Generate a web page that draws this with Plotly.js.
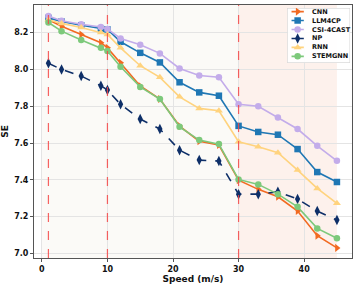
<!DOCTYPE html>
<html>
<head>
<meta charset="utf-8">
<script src="https://cdn.plot.ly/plotly-3.0.1.min.js"></script>
<style>html,body{margin:0;padding:0;background:#fff;}#chart{width:357px;height:286px;}</style>
</head>
<body>
<div id="chart"></div>
<script>
const speeds = [1,3,6,9,10,12,15,18,21,24,27,30,33,36,39,42,45];
const cnn     = [8.270,8.235,8.190,8.145,8.117,8.036,7.910,7.839,7.692,7.610,7.589,7.398,7.348,7.308,7.230,7.096,7.030];
const llm4cp  = [8.280,8.260,8.240,8.220,8.217,8.150,8.090,8.038,7.930,7.875,7.857,7.693,7.660,7.645,7.567,7.442,7.388];
const csi4cast= [8.290,8.264,8.245,8.230,8.220,8.168,8.134,8.087,8.005,7.967,7.957,7.811,7.800,7.739,7.676,7.585,7.503];
const np_     = [8.033,8.000,7.964,7.911,7.888,7.810,7.730,7.676,7.561,7.507,7.502,7.322,7.322,7.335,7.295,7.230,7.181];
const rnn     = [8.270,8.250,8.228,8.200,8.190,8.117,8.020,7.957,7.851,7.788,7.775,7.607,7.580,7.547,7.453,7.353,7.272];
const stemgnn = [8.255,8.208,8.160,8.117,8.100,8.014,7.905,7.839,7.688,7.616,7.594,7.402,7.375,7.322,7.253,7.136,7.082];
const seriesNames = ['CNN','LLM4CP','CSI-4CAST','NP','RNN','STEMGNN'];
const xTicks = [0,10,20,30,40];
const yTicks = [7.0,7.2,7.4,7.6,7.8,8.0,8.2];
const markLines = [1,10,30];

const F = 'DejaVu Sans, sans-serif';
const styles = [
  {color:'#f26a21', symbol:'triangle-right', size:7, dash:'solid'},
  {color:'#1f77b4', symbol:'square', size:6.5, dash:'solid'},
  {color:'#c3acea', symbol:'circle', size:6.5, dash:'solid'},
  {color:'#0e2f68', symbol:'diamond-tall', size:7.5, dash:'dash'},
  {color:'#ffd37e', symbol:'triangle-up', size:7, dash:'solid'},
  {color:'#7dc97b', symbol:'circle', size:6.5, dash:'solid'}
];
const values = [cnn, llm4cp, csi4cast, np_, rnn, stemgnn];

const data = values.map((y, i) => ({
  x: speeds, y: y, name: seriesNames[i], type: 'scatter', mode: 'lines+markers',
  line: {color: styles[i].color, width: 1.6, dash: styles[i].dash},
  marker: {color: styles[i].color, symbol: styles[i].symbol, size: styles[i].size},
  showlegend: false
}));

// custom compact legend on an overlay axis (layout positions only)
data.push({x:[0,1,1,0,0], y:[0,0,1,1,0], xaxis:'x2', yaxis:'y2', type:'scatter', mode:'lines',
  fill:'toself', fillcolor:'rgba(255,255,255,0.92)', line:{color:'#cfcfcf', width:1}, showlegend:false, hoverinfo:'skip'});
const annotations = [];
seriesNames.forEach((name, i) => {
  const ly = 0.935 - i * 0.163;
  data.push({x:[0.07,0.265], y:[ly,ly], xaxis:'x2', yaxis:'y2', type:'scatter', mode:'lines',
    line:{color:styles[i].color, width:1.6}, showlegend:false, hoverinfo:'skip'});
  data.push({x:[0.167], y:[ly], xaxis:'x2', yaxis:'y2', type:'scatter', mode:'markers',
    marker:{color:styles[i].color, symbol:styles[i].symbol, size:styles[i].size}, showlegend:false, hoverinfo:'skip'});
  annotations.push({xref:'x2', yref:'y2', x:0.36, y:ly, text:name, showarrow:false,
    xanchor:'left', yanchor:'middle', font:{family:F, size:6.5, weight:'bold', color:'#111'}});
});

const shapes = [
  {type:'rect', xref:'x', yref:'paper', x0:0, x1:30, y0:0, y1:1, fillcolor:'#fbfaf7', line:{width:0}, layer:'below'},
  {type:'rect', xref:'x', yref:'paper', x0:30, x1:45, y0:0, y1:1, fillcolor:'#fdf1ec', line:{width:0}, layer:'below'}
];
markLines.forEach(v => shapes.push({type:'line', xref:'x', yref:'paper', x0:v, x1:v, y0:0, y1:1,
  line:{color:'rgba(245,70,70,0.85)', width:1.2, dash:'dash'}}));

const layout = {
  width: 357, height: 286,
  margin: {l: 34, r: 5, t: 5, b: 28},
  paper_bgcolor: '#ffffff', plot_bgcolor: 'rgba(0,0,0,0)',
  font: {family: F, size: 8, color: '#111'},
  showlegend: false,
  xaxis: {range: [-1.2, 47.3], tickvals: xTicks, ticktext: xTicks.map(String),
    showgrid: true, gridcolor: '#e4e4e4', gridwidth: 1, zeroline: false,
    showline: true, linecolor: '#555', linewidth: 1, mirror: true,
    ticks: 'outside', ticklen: 3, tickcolor: '#555',
    tickfont: {family: F, size: 8, weight: 'bold', color: '#111'},
    title: {text: 'Speed (m/s)', font: {family: F, size: 9, weight: 'bold', color: '#111'}, standoff: 2}},
  yaxis: {range: [6.975, 8.35], tickvals: yTicks, ticktext: yTicks.map(v => v.toFixed(1)),
    showgrid: true, gridcolor: '#e4e4e4', gridwidth: 1, zeroline: false,
    showline: true, linecolor: '#555', linewidth: 1, mirror: true,
    ticks: 'outside', ticklen: 3, tickcolor: '#555',
    tickfont: {family: F, size: 8, weight: 'bold', color: '#111'},
    title: {text: 'SE', font: {family: F, size: 9, weight: 'bold', color: '#111'}, standoff: 4}},
  xaxis2: {domain: [0.796, 0.994], range: [0, 1], visible: false, fixedrange: true, anchor: 'y2'},
  yaxis2: {domain: [0.771, 0.988], range: [0, 1], visible: false, fixedrange: true, anchor: 'x2'},
  shapes: shapes,
  annotations: annotations
};
Plotly.newPlot('chart', data, layout, {staticPlot: true, displayModeBar: false});
</script>
</body>
</html>
